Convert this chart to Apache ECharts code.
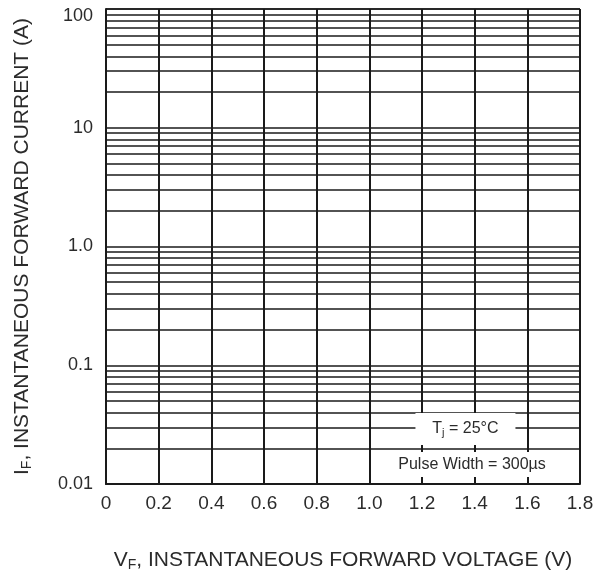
<!DOCTYPE html>
<html>
<head>
<meta charset="utf-8">
<script src="https://cdn.jsdelivr.net/npm/echarts@6/dist/echarts.min.js"></script>
<style>html,body{margin:0;padding:0;background:#fff;}#c{width:610px;height:578px;}</style>
</head>
<body>
<div id="c"></div>
<script>
// ---- data ----
const xTickValues = [0, 0.2, 0.4, 0.6, 0.8, 1.0, 1.2, 1.4, 1.6, 1.8];
const xTickLabels = ['0', '0.2', '0.4', '0.6', '0.8', '1.0', '1.2', '1.4', '1.6', '1.8'];
const yTickValues = [0.01, 0.1, 1, 10, 100];
const yTickLabels = ['0.01', '0.1', '1.0', '10', '100'];
const yMinorGrid = [
  0.02, 0.03, 0.04, 0.05, 0.06, 0.07, 0.08, 0.09,
  0.2, 0.3, 0.4, 0.5, 0.6, 0.7, 0.8, 0.9,
  2, 3, 4, 5, 6, 7, 8, 9,
  20, 30, 40, 50, 60, 70, 80, 90
];
const annotations = [
  { name: 'tj', x: 1.365, y: 0.029 },
  { name: 'pw', x: 1.39, y: 0.0146 }
];

const FONT = '"Liberation Sans", Arial, sans-serif';
const TXT = '#2b2b2b';
const LINE = '#1a1a1a';

const chart = echarts.init(document.getElementById('c'), null, { renderer: 'canvas' });

function xLabel(v) {
  for (let i = 0; i < xTickValues.length; i++) {
    if (Math.abs(xTickValues[i] - v) < 1e-6) return xTickLabels[i];
  }
  return '';
}
function yLabel(v) {
  for (let i = 0; i < yTickValues.length; i++) {
    if (Math.abs(Math.log10(yTickValues[i]) - Math.log10(v)) < 1e-6) {
      return i === yTickValues.length - 1 ? '{top|' + yTickLabels[i] + '}' : yTickLabels[i];
    }
  }
  return '';
}

chart.setOption({
  backgroundColor: '#fff',
  animation: false,
  textStyle: { fontFamily: FONT },
  grid: { left: 106, right: 30, top: 9, bottom: 94 },
  xAxis: {
    type: 'value',
    min: 0, max: 1.8, interval: 0.2,
    axisLine: { show: true, lineStyle: { color: LINE, width: 2 } },
    axisTick: { show: false },
    axisLabel: { color: TXT, fontSize: 19, fontFamily: FONT, margin: 10, formatter: xLabel },
    splitLine: { show: true, lineStyle: { color: LINE, width: 2 } },
    name: '{a|V}{sub|F}{a|, INSTANTANEOUS FORWARD VOLTAGE (V)}',
    nameLocation: 'middle',
    nameGap: 64,
    nameTextStyle: {
      rich: {
        a: { fontSize: 21, color: TXT, fontFamily: FONT, lineHeight: 24 },
        sub: { fontSize: 14, color: TXT, fontFamily: FONT, lineHeight: 24, padding: [11, 0, 0, 0] }
      }
    }
  },
  yAxis: {
    type: 'log',
    logBase: 10,
    min: 0.01, max: 100,
    axisLine: { show: true, onZero: false, lineStyle: { color: LINE, width: 2 } },
    axisTick: { show: false },
    axisLabel: {
      color: TXT, fontSize: 18, fontFamily: FONT, margin: 13, formatter: yLabel,
      rich: { top: { fontSize: 18, color: TXT, fontFamily: FONT, padding: [14, 0, 0, 0] } }
    },
    splitLine: { show: true, lineStyle: { color: LINE, width: 1.6 } },
    minorTick: { show: false },
    name: '{a|I}{sub|F}{a|, INSTANTANEOUS FORWARD CURRENT (A)}',
    nameLocation: 'middle',
    nameRotate: 90,
    nameGap: 72,
    nameTextStyle: {
      rich: {
        a: { fontSize: 21, color: TXT, fontFamily: FONT, lineHeight: 24 },
        sub: { fontSize: 14, color: TXT, fontFamily: FONT, lineHeight: 24, padding: [11, 0, 0, 0] }
      }
    }
  },
  series: [
    {
      type: 'line',
      data: [],
      z: 2,
      silent: true,
      markLine: {
        silent: true,
        symbol: ['none', 'none'],
        label: { show: false },
        lineStyle: { color: LINE, width: 1.6, type: 'solid' },
        emphasis: { disabled: true },
        animation: false,
        data: yMinorGrid.map(v => ({ yAxis: v })).concat([{ yAxis: 100 }])
      }
    },
    {
      type: 'scatter',
      data: [],
      z: 20,
      silent: true,
      markPoint: {
        silent: true,
        z: 30,
        animation: false,
        data: [
          {
            coord: [annotations[0].x, annotations[0].y],
            symbol: 'rect', symbolSize: [100, 32],
            itemStyle: { color: '#fff' },
            label: {
              show: true, position: 'inside',
              formatter: '{a|T}{sub|j}{a| = 25°C}',
              rich: {
                a: { fontSize: 16, color: TXT, fontFamily: FONT, lineHeight: 19 },
                sub: { fontSize: 11, color: TXT, fontFamily: FONT, lineHeight: 19, padding: [8, 0, 0, 0] }
              }
            }
          },
          {
            coord: [annotations[1].x, annotations[1].y],
            symbol: 'rect', symbolSize: [158, 25],
            itemStyle: { color: '#fff' },
            label: {
              show: true, position: 'inside',
              formatter: 'Pulse Width = 300µs',
              fontSize: 16, color: TXT, fontFamily: FONT
            }
          }
        ]
      }
    }
  ]
});
</script>
</body>
</html>
